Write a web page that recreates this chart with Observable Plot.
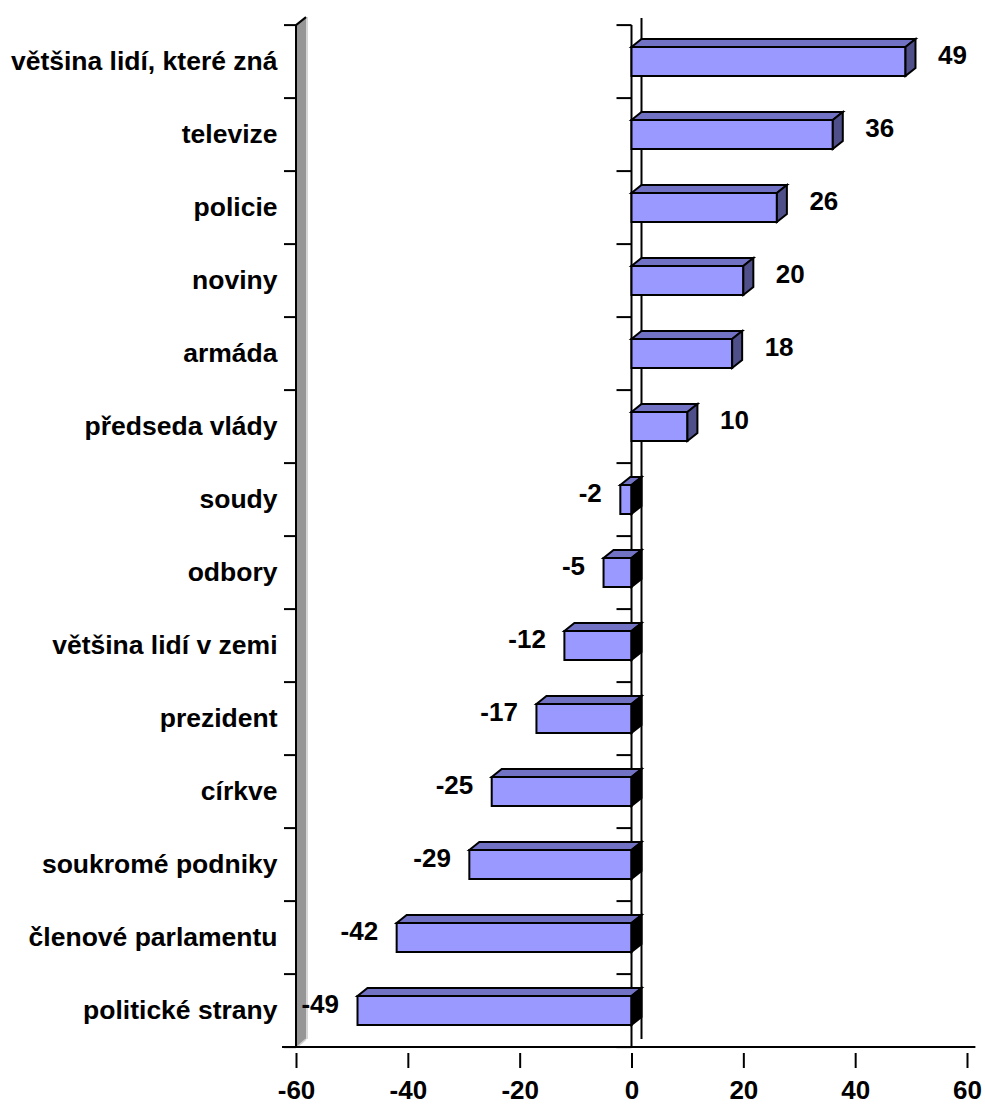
<!DOCTYPE html>
<html>
<head>
<meta charset="utf-8">
<script src="https://cdn.jsdelivr.net/npm/d3@7"></script>
<script src="https://cdn.jsdelivr.net/npm/@observablehq/plot@0.6"></script>
<style>
  html, body { margin: 0; padding: 0; background: #fff; }
  #chart svg { display: block; }
</style>
</head>
<body>
<div id="chart"></div>
<script>
// ---- data ----
const categories = [
  "většina lidí, které zná",
  "televize",
  "policie",
  "noviny",
  "armáda",
  "předseda vlády",
  "soudy",
  "odbory",
  "většina lidí v zemi",
  "prezident",
  "církve",
  "soukromé podniky",
  "členové parlamentu",
  "politické strany"
];
const values = [49, 36, 26, 20, 18, 10, -2, -5, -12, -17, -25, -29, -42, -49];
const xTicks = [-60, -40, -20, 0, 20, 40, 60];

const data = categories.map((c, i) => ({category: c, value: values[i]}));

// ---- style ----
const FONT = "Arial, 'Liberation Sans', sans-serif";
const DX = 10, DY = -8; // 3D depth in pixels
const frontColor = "#9999ff";
const topColor = "#7272c4";
const sideColor = "#4f4f8a";

function decorations(index, scales, values_, dims) {
  const x = scales.x, y = scales.y;
  const step = y.step ? y.step() : (y(categories[1]) - y(categories[0]));
  const y0 = y(categories[0]) - 0.3 * step;
  const yEnd = y0 + categories.length * step;
  const xl = x(-60), xz = x(0);
  const g = d3.create("svg:g");
  // left wall
  g.append("path")
    .attr("d", `M${xl + 1},${y0}L${xl + 1 + 9},${y0 + DY}L${xl + 10},${yEnd + DY}L${xl + 1},${yEnd}Z`)
    .attr("fill", "#969696");
  g.append("line")
    .attr("x1", xl + 11).attr("x2", xl + 11).attr("y1", y0 + DY).attr("y2", yEnd + DY)
    .attr("stroke", "#c8c8c8").attr("stroke-width", 1.5);
  g.append("line")
    .attr("x1", xl).attr("y1", y0).attr("x2", xl + 10).attr("y2", y0 + DY)
    .attr("stroke", "black").attr("stroke-width", 2);
  g.append("line")
    .attr("x1", xl + 1).attr("y1", yEnd).attr("x2", xl + 10).attr("y2", yEnd + DY)
    .attr("stroke", "#d0d0d0").attr("stroke-width", 1.5);
  // left axis line
  g.append("line")
    .attr("x1", xl).attr("x2", xl).attr("y1", y0).attr("y2", yEnd)
    .attr("stroke", "black").attr("stroke-width", 2);
  // zero lines (front and back)
  g.append("line")
    .attr("x1", xz).attr("x2", xz).attr("y1", y0).attr("y2", yEnd)
    .attr("stroke", "black").attr("stroke-width", 2);
  g.append("line")
    .attr("x1", xz + DX).attr("x2", xz + DX).attr("y1", y0 + DY + 1).attr("y2", yEnd + DY)
    .attr("stroke", "black").attr("stroke-width", 2);
  // boundary ticks on both vertical axes
  for (let k = 0; k <= categories.length; k++) {
    const yy = y0 + k * step;
    g.append("line").attr("x1", xl - 12).attr("x2", xl).attr("y1", yy).attr("y2", yy)
      .attr("stroke", "black").attr("stroke-width", 2);
    g.append("line").attr("x1", xz - 15).attr("x2", xz).attr("y1", yy).attr("y2", yy)
      .attr("stroke", "black").attr("stroke-width", 2);
  }
  // bottom axis line
  g.append("line")
    .attr("x1", x(-62.5)).attr("x2", x(61.5)).attr("y1", yEnd).attr("y2", yEnd)
    .attr("stroke", "black").attr("stroke-width", 2);
  return g.node();
}

function barFaces(index, scales) {
  const x = scales.x, y = scales.y;
  const bw = y.bandwidth();
  const g = d3.create("svg:g")
    .attr("stroke", "black").attr("stroke-width", 2).attr("stroke-linejoin", "miter");
  data.forEach(d => {
    const top = y(d.category), bot = top + bw;
    const xa = x(Math.min(0, d.value)), xb = x(Math.max(0, d.value));
    g.append("path")
      .attr("d", `M${xa},${top}L${xa + DX},${top + DY}L${xb + DX},${top + DY}L${xb},${top}Z`)
      .attr("fill", topColor);
    g.append("path")
      .attr("d", `M${xb},${top}L${xb + DX},${top + DY}L${xb + DX},${bot + DY}L${xb},${bot}Z`)
      .attr("fill", d.value < 0 ? "black" : sideColor);
  });
  return g.node();
}

const chart = Plot.plot({
  width: 985,
  height: 1104,
  marginLeft: 296,
  marginRight: 18,
  marginTop: 20,
  marginBottom: 51,
  style: {fontFamily: FONT, fontWeight: "bold", background: "white", overflow: "visible"},
  x: {domain: [-60, 60]},
  y: {domain: categories, paddingInner: 0.6, paddingOuter: 0.3, align: 0.5},
  marks: [
    decorations,
    Plot.barX(data, {x1: 0, x2: "value", y: "category", fill: frontColor, stroke: "black", strokeWidth: 2}),
    barFaces,
    Plot.axisX({ticks: xTicks, tickSize: 15, tickPadding: 12, tickFormat: d => String(d),
      fontSize: 26, fontWeight: "bold", fontFamily: FONT, label: null, strokeWidth: 2, stroke: "black", fill: "black"}),
    Plot.axisY({tickSize: 0, tickPadding: 19, fontSize: 26.5, fontWeight: "bold", fontFamily: FONT, label: null, fill: "black"}),
    Plot.text(data.filter(d => d.value >= 0), {x: "value", y: "category", text: d => String(d.value),
      textAnchor: "start", dx: 32, dy: -6, fontSize: 26, fontWeight: "bold", fontFamily: FONT, fill: "black"}),
    Plot.text(data.filter(d => d.value < 0), {x: "value", y: "category", text: d => String(d.value),
      textAnchor: "end", dx: -19, dy: -6, fontSize: 26, fontWeight: "bold", fontFamily: FONT, fill: "black"})
  ]
});
document.getElementById("chart").appendChild(chart);
</script>
</body>
</html>
